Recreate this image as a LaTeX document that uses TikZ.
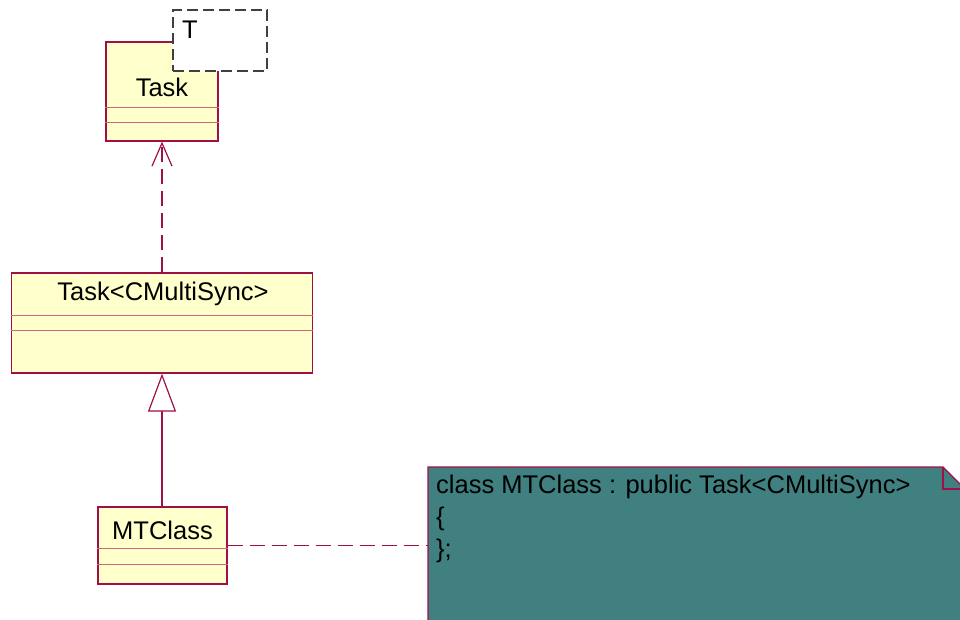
\documentclass[tikz,border=0pt]{standalone}
\usepackage{fontspec}
\setmainfont{Liberation Sans}
\usetikzlibrary{arrows.meta,positioning,calc}
\definecolor{umlborde}{RGB}{160,16,72}
\definecolor{umllinea}{RGB}{204,102,120}
\definecolor{umlfondo}{RGB}{255,255,204}
\definecolor{notafondo}{RGB}{64,128,128}
\tikzset{
    classbox/.style={
        rectangle,                % caja de clase UML
        draw=umlborde,            % borde granate
        fill=umlfondo,            % relleno amarillo claro
        line width=1.2pt,
        inner sep=0pt             % sin texto dentro, el nombre va aparte
    },
    classname/.style={
        font=\fontsize{25.5}{30}\selectfont, % texto grande tipo Arial
        inner sep=0pt,
        anchor=center
    },
    compline/.style={
        draw=umllinea,            % separadores de compartimentos, mas claros
        line width=1.2pt
    },
    parambox/.style={
        rectangle,
        draw=black!75,            % borde gris oscuro
        fill=white,
        dash pattern=on 11pt off 5pt,
        line width=1.2pt,
        inner sep=0pt
    },
    depline/.style={
        draw=umlborde,
        line width=1.2pt,
        dash pattern=on 15pt off 7pt,
        -{Straight Barb[length=23pt,width=20pt,line width=1.2pt]}
    },
    genline/.style={
        draw=umlborde,
        line width=1.2pt,
        -{Triangle[open,length=38pt,width=28pt,fill=white,line width=1.2pt]}
    },
    noteline/.style={
        draw=umlborde,
        line width=1.2pt,
        dash pattern=on 15pt off 7pt
    }
}

\begin{document}
\begin{tikzpicture}[x=1pt,y=-1pt]
    \clip (0,0) rectangle (960,619);
    % clase plantilla
    \node[classbox, minimum width=112pt, minimum height=99pt] (task) at (162,91.5) {};
    \draw[compline] ($(task.north west)+(0,66)$) -- ($(task.north east)+(0,66)$);
    \draw[compline] ($(task.north west)+(0,81)$) -- ($(task.north east)+(0,81)$);
    \node[parambox, minimum width=94pt, minimum height=61pt] (param) at (220,40.5) {};
    \node[classname, anchor=west] (paramT) at (182,29.5) {T};
    \node[classname] (tasklbl) at (162,87) {Task};

    % instanciacion
    \node[classbox, minimum width=301pt, minimum height=100pt] (inst) at (162,323) {};
    \draw[compline] ($(inst.north west)+(0,43)$) -- ($(inst.north east)+(0,43)$);
    \draw[compline] ($(inst.north west)+(0,58)$) -- ($(inst.north east)+(0,58)$);
    \node[classname] (instlbl) at (163,294) {Task<CMultiSync>};

    % clase derivada
    \node[classbox, minimum width=129pt, minimum height=77pt] (mtclass) at (162.5,545.5) {};
    \draw[compline] ($(mtclass.north west)+(0,42)$) -- ($(mtclass.north east)+(0,42)$);
    \draw[compline] ($(mtclass.north west)+(0,58)$) -- ($(mtclass.north east)+(0,58)$);
    \node[classname] (mtlbl) at (162.5,530) {MTClass};

    % nota
    \coordinate (notaNW) at (428,467);
    \fill[notafondo] (notaNW) -- (943,467) -- (965,489) -- (965,640) -- (428,640) -- cycle;
    \draw[umlborde, line width=1.2pt] (428,640) -- (notaNW) -- (943,467) -- (965,489);
    \draw[umlborde, line width=1.2pt] (943,467) -- (943,489) -- (965,489);
    \node[anchor=north west, inner sep=0pt, align=left,
          font=\fontsize{25.5}{32}\selectfont] (nota) at (436,475)
          {class MTClass : public Task<CMultiSync>\\\{\\\};};

    % relaciones
    \draw[depline] (inst.north -| task.south) -- (task.south);
    \draw[genline] (mtclass.north -| inst.south) -- (inst.south);
    \draw[noteline] (mtclass.east) -- (mtclass.east -| notaNW);
\end{tikzpicture}
\end{document}
